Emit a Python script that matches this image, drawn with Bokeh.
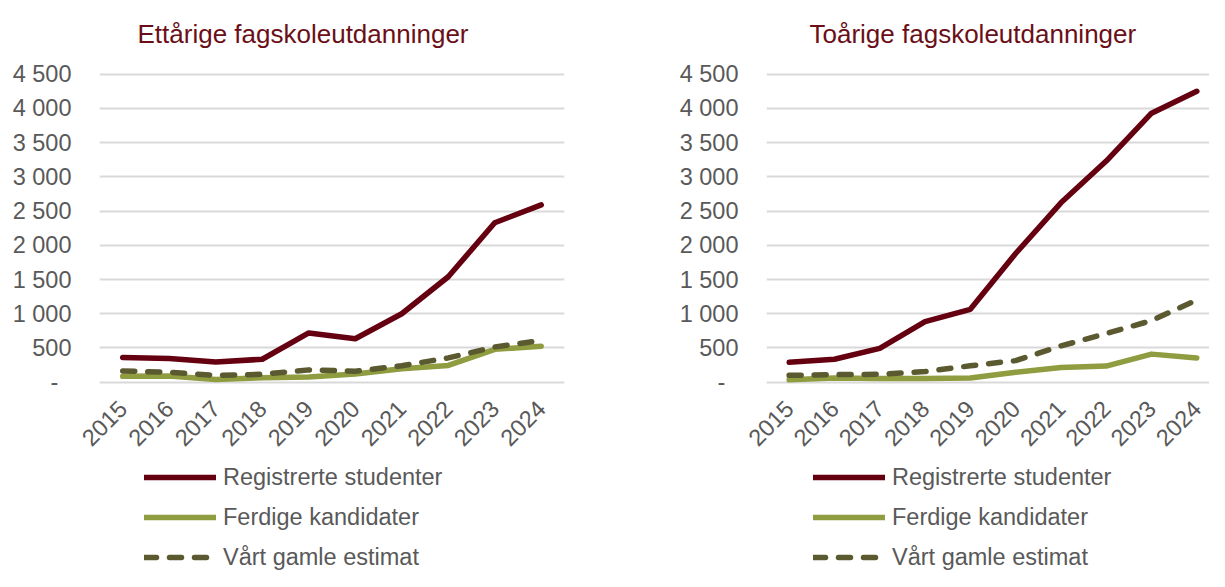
import math
from bokeh.plotting import figure
from bokeh.models import Range1d, FixedTicker, Legend, LegendItem
from bokeh.layouts import row, column
from bokeh.embed import file_html
from bokeh.resources import INLINE

# ---- data ----
years = [2015, 2016, 2017, 2018, 2019, 2020, 2021, 2022, 2023, 2024]
series_names = ["Registrerte studenter", "Ferdige kandidater", "Vårt gamle estimat"]
titles = ["Ettårige fagskoleutdanninger", "Toårige fagskoleutdanninger"]

reg_ett = [360, 345, 295, 335, 720, 635, 1000, 1540, 2330, 2590]
ferd_ett = [85, 90, 40, 65, 75, 120, 195, 245, 480, 525]
est_ett = [165, 145, 100, 115, 180, 160, 240, 355, 515, 610]

reg_to = [290, 335, 495, 885, 1065, 1880, 2620, 3230, 3930, 4250]
ferd_to = [35, 60, 55, 55, 60, 145, 215, 235, 410, 355]
est_to = [100, 110, 115, 155, 240, 315, 530, 710, 900, 1200]

y_ticks = [0, 500, 1000, 1500, 2000, 2500, 3000, 3500, 4000, 4500]
y_labels = ["-", "500", "1 000", "1 500", "2 000", "2 500", "3 000", "3 500", "4 000", "4 500"]

# ---- styles ----
RED = "#650011"
GREEN = "#8f9c3f"
OLIVE = "#5b5930"
TITLE_COLOR = "#6a0f17"
TEXT = "#595959"
FONT = "Liberation Sans"
LINE_STYLES = [dict(line_color=RED), dict(line_color=GREEN),
               dict(line_color=OLIVE, line_dash="12 13")]
MAIN_H = 463
LEG_H = 108


def make(title, reg, ferd, est, width, lb, rb, x_end, toff):
    x = list(range(len(years)))
    p = figure(width=width, height=MAIN_H, output_backend="svg", toolbar_location=None,
               x_range=Range1d(-0.5, x_end), y_range=Range1d(-63, 4568),
               min_border_left=lb, min_border_right=rb,
               min_border_top=68, min_border_bottom=MAIN_H - 386)
    p.outline_line_color = None
    p.background_fill_color = "white"
    p.border_fill_color = "white"

    p.title.text = title
    p.title.text_font = FONT
    p.title.text_font_size = "26px"
    p.title.text_font_style = "normal"
    p.title.text_color = TITLE_COLOR
    p.title.align = "left"
    p.title.vertical_align = "top"
    p.title.offset = toff
    p.title.standoff = 37

    p.xgrid.visible = False
    p.ygrid.grid_line_color = "#d9d9d9"
    p.ygrid.grid_line_width = 2

    p.yaxis.ticker = FixedTicker(ticks=y_ticks)
    overrides = {}
    for t, lab in zip(y_ticks, y_labels):
        overrides[t] = lab + ("\u00a0\u00a0" if lab == "-" else "")
    p.yaxis.major_label_overrides = overrides
    p.yaxis.axis_line_color = None
    p.yaxis.major_tick_line_color = None
    p.yaxis.minor_tick_line_color = None
    p.yaxis.major_label_standoff = 22
    p.yaxis.major_label_text_font = FONT
    p.yaxis.major_label_text_font_size = "23.5px"
    p.yaxis.major_label_text_color = TEXT

    p.xaxis.ticker = FixedTicker(ticks=x)
    p.xaxis.major_label_overrides = {i: str(y) for i, y in zip(x, years)}
    p.xaxis.major_label_orientation = math.pi / 4
    p.xaxis.axis_line_color = None
    p.xaxis.major_tick_line_color = None
    p.xaxis.minor_tick_line_color = None
    p.xaxis.major_label_standoff = 12
    p.xaxis.major_label_text_font = FONT
    p.xaxis.major_label_text_font_size = "23.5px"
    p.xaxis.major_label_text_color = TEXT

    for vals, st in zip([reg, ferd, est], LINE_STYLES):
        p.line(x, vals, line_width=5.5, line_cap="round", line_join="round", **st)
    return p


def make_legend(width, x_off, reg, ferd, est):
    x = list(range(len(years)))
    # ranges placed away from the data so the series only feed the legend swatches
    q = figure(width=width, height=LEG_H, output_backend="svg", toolbar_location=None,
               x_axis_type=None, y_axis_type=None, min_border=0,
               x_range=Range1d(-200, -100), y_range=Range1d(-200, -100))
    q.outline_line_color = None
    q.xgrid.visible = False
    q.ygrid.visible = False
    items = []
    for name, vals, st in zip(series_names, [reg, ferd, est], LINE_STYLES):
        r = q.line(x, vals, line_width=5.5, line_cap="round", line_join="round", **st)
        items.append(LegendItem(label=name, renderers=[r]))
    legend = Legend(items=items, location=(x_off, 0), orientation="vertical",
                    glyph_width=72, glyph_height=28, label_height=28, spacing=12,
                    padding=0, margin=0, label_standoff=7,
                    border_line_color=None, background_fill_alpha=0,
                    label_text_font=FONT, label_text_font_size="23.5px",
                    label_text_color=TEXT)
    q.add_layout(legend)
    return q


p1 = make(titles[0], reg_ett, ferd_ett, est_ett, 604, 99, 40, 9.5, 38)
p2 = make(titles[1], reg_to, ferd_to, est_to, 605, 162, 0, 9.28, 43)
l1 = make_legend(604, 144, reg_ett, ferd_ett, est_ett)
l2 = make_legend(605, 209, reg_to, ferd_to, est_to)

layout = column(row(p1, p2), row(l1, l2))
open("out.html", "w").write(file_html(layout, INLINE))
